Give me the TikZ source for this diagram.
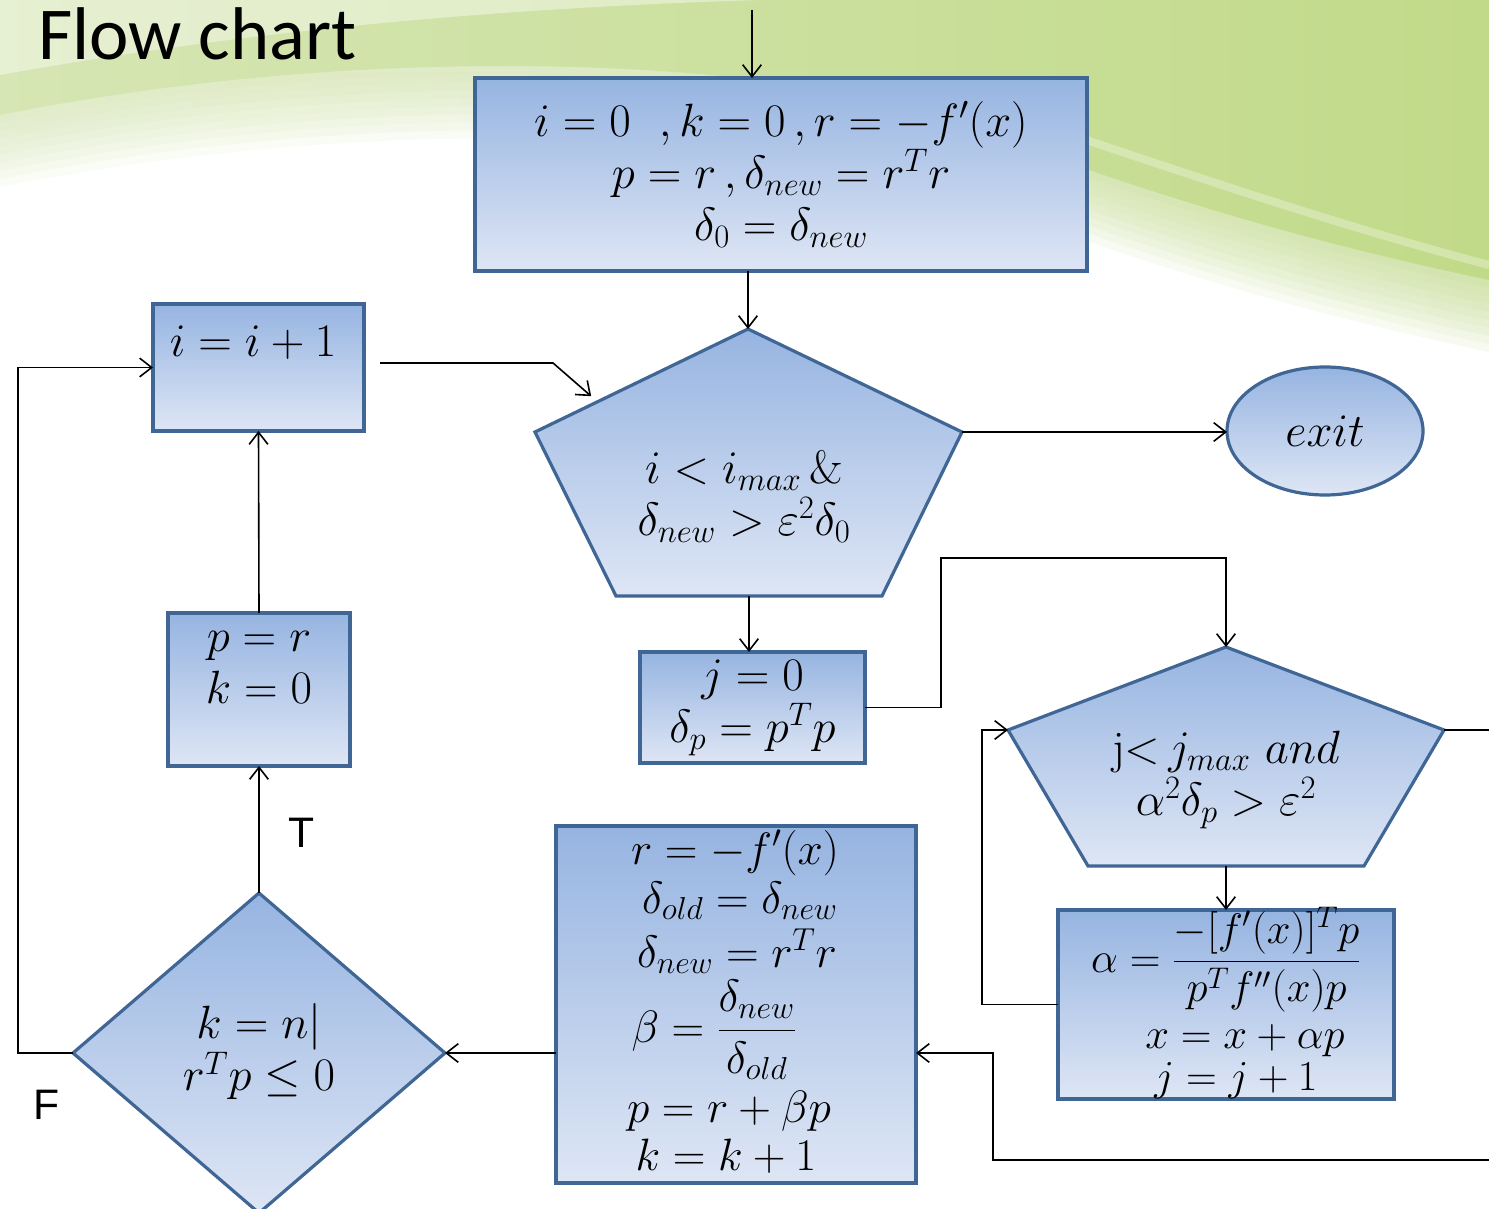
\RequirePackage{fix-cm}
\documentclass[tikz,border=0pt]{standalone}
\usepackage{amsmath}
\usepackage{fontspec}
\newfontfamily\titlefont{Carlito}
\newfontfamily\lblfont{Liberation Sans}
\usetikzlibrary{arrows.meta,shapes.geometric,calc}
\definecolor{boxtop}{RGB}{150,180,225}
\definecolor{boxbot}{RGB}{222,230,245}
\definecolor{boxline}{RGB}{64,102,150}
\definecolor{bgG}{RGB}{193,218,137}
\definecolor{bgP}{RGB}{214,230,180}
\def\pxu{0.75pt}
\begin{document}
\begin{tikzpicture}[x=0.75pt,y=-0.75pt,
  mtext/.style={font=\fontsize{35}{39}\selectfont, align=center},
  btext/.style={font=\fontsize{34}{38}\selectfont, anchor=base, inner sep=0pt},
  box/.style={rectangle, draw=boxline, line width=2.4pt, top color=boxtop, bottom color=boxbot, inner sep=0pt, outer sep=0pt, mtext},
  shp/.style={draw=boxline, line width=2.4pt, top color=boxtop, bottom color=boxbot},
  conn/.style={line width=1.2pt},
  arr/.style={line width=1.2pt, -{Straight Barb[length=9pt,width=14pt,line width=1.2pt]}},
  lbl/.style={font=\lblfont\fontsize{32}{36}\selectfont}
]
\useasboundingbox (0,0) rectangle (1489,1209);
\clip (0,0) rectangle (1489,1209);
\fill[white] (0,0) rectangle (1489,1209);
% background swoosh: soft lower edge by stacked translucent layers
\foreach \s in {72,64,...,8}{
  \shade[left color=bgP, right color=bgG, fill opacity=0.11, yshift=-\s*\pxu]
    (0,0) -- (1489,0) -- (1489,280) .. controls (1300,240) and (1150,195) .. (950,120)
    .. controls (800,65) and (400,35) .. (0,115) -- cycle;
}
\shade[left color=bgP, right color=bgG]
  (0,0) -- (1489,0) -- (1489,280) .. controls (1300,240) and (1150,195) .. (950,120)
  .. controls (800,65) and (400,35) .. (0,115) -- cycle;
% lighter streaks
\draw[white, opacity=0.3, line width=6pt] (950,95) .. controls (1150,160) and (1300,215) .. (1489,265);
\fill[white, opacity=0.4] (0,0) -- (760,0) .. controls (500,8) and (250,30) .. (0,75) -- cycle;

% title
\node[font=\titlefont\fontsize{56}{60}\selectfont, anchor=base west, inner sep=0pt] (title) at (38,60) {Flow chart};

% boxes
\node[box, minimum width=612*\pxu, minimum height=193*\pxu] (init) at (781,174.5)
  {$i=0\ \ ,k=0\,,r=-f'(x)$\\ $p=r\,,\delta_{new}=r^Tr$\\ $\delta_0=\delta_{new}$};
\node[box, minimum width=211*\pxu, minimum height=127*\pxu] (inc) at (258.5,367.5) {};
\node[mtext] (inctext) at (253,343) {$i=i+1$};
\node[box, minimum width=182*\pxu, minimum height=153*\pxu] (pbox) at (259,689.5) {};
\node[mtext] (ptext) at (259,667) {$p=r$\\ $k=0$};
\node[box, minimum width=225*\pxu, minimum height=111*\pxu] (jbox) at (752.5,707.5)
  {$j=0$\\ $\delta_p=p^Tp$};

% alpha box
\node[box, minimum width=336*\pxu, minimum height=189*\pxu] (abox) at (1226,1004.5) {};
\node[btext, font=\fontsize{32}{36}\selectfont] (atext1) at (1226,972) {$\alpha=\dfrac{-[f'(x)]^Tp}{p^Tf''(x)p}$};
\node[btext, font=\fontsize{32}{36}\selectfont] (atext2) at (1245,1048) {$x=x+\alpha p$};
\node[btext, font=\fontsize{32}{36}\selectfont] (atext3) at (1236,1090) {$j=j+1$};

% big box
\node[box, minimum width=360*\pxu, minimum height=357*\pxu] (bbox) at (736,1004.5) {};
\node[btext] (b1) at (735,864) {$r=-f'(x)$};
\node[btext] (b2) at (740,913) {$\delta_{old}=\delta_{new}$};
\node[btext] (b3) at (737,967) {$\delta_{new}=r^Tr$};
\node[btext] (b4) at (714,1042) {$\beta=\dfrac{\delta_{new}}{\delta_{old}}$};
\node[btext] (b5) at (729,1122) {$p=r+\beta p$};
\node[btext] (b6) at (726,1170) {$k=k+1$};

% diamond
\node[shp, diamond, inner sep=0pt, outer sep=0pt, minimum width=372*\pxu, minimum height=320*\pxu, mtext] (dia) at (259,1053) {};
\node[mtext] (diatext) at (259,1052) {$k=n|$\\ $r^Tp\le 0$};

% pentagon 1
\coordinate (p1top) at (748,329);
\coordinate (p1ul) at (535,432);
\coordinate (p1ur) at (962,432);
\coordinate (p1bl) at (616,596);
\coordinate (p1br) at (882,596);
\coordinate (p1bot) at (749,596);
\draw[shp, line join=miter] (p1top) -- (p1ur) -- (p1br) -- (p1bl) -- (p1ul) -- cycle;
\node[mtext] (p1text) at (744,496) {$i<i_{max}\,\&$\\ $\delta_{new}>\varepsilon^2\delta_0$};

% pentagon 2
\coordinate (p2top) at (1226,647);
\coordinate (p2ul) at (1008,730);
\coordinate (p2ur) at (1444,730);
\coordinate (p2bl) at (1088,866);
\coordinate (p2br) at (1364,866);
\coordinate (p2bot) at (1226,866);
\draw[shp, line join=miter] (p2top) -- (p2ur) -- (p2br) -- (p2bl) -- (p2ul) -- cycle;
\node[mtext] (p2text) at (1226,780) {{\rmfamily j<}\,$j_{max}\ and$\\ $\alpha^2\delta_p>\varepsilon^2$};

% exit
\node[shp, ellipse, inner sep=0pt, outer sep=0pt, minimum width=196*\pxu, minimum height=128*\pxu, mtext] (exit) at (1325,431) {$exit$};

% off-picture ends
\coordinate (topin) at (752,10);
\coordinate (offr) at (1489,730);
\coordinate (offr2) at (1489,1160);
\coordinate (p1in) at ($(p1ul)!0.27!(p1top)$);

% connectors
\draw[arr] (topin) -- (topin |- init.north);
\draw[arr] (init.south -| p1top) -- (p1top);
\draw[arr] ([xshift=12pt,yshift=3.4pt]inc.east) -- ++(173,0) -- ([xshift=-1pt,yshift=6pt]p1in);
\draw[arr] (p1ur) -- (p1ur -| exit.west);
\draw[arr] (p1bot) -- (p1bot |- jbox.north);
\draw[arr] (jbox.east) -| (941,558) -| (p2top);
\draw[conn] (p2ur) -- (offr);
\draw[arr] (p2bot) -- (abox.north);
\draw[arr] (abox.west) -- ++(-76,0) |- (p2ul);
\draw[arr] (offr2) -| (993,1053) -- (bbox.east |- dia.east);
\draw[arr] (bbox.west |- dia.east) -- (dia.east);
\draw[arr] (dia.west) -- ++(-55,0) |- (inc.west);
\draw[arr] (dia.north) -- (pbox.south);
\draw[arr] (pbox.north) -- (inc.south);

% labels
\node[lbl] (tlabel) at (302,833) {T};
\node[lbl] (flabel) at (47,1105) {F};
\end{tikzpicture}
\end{document}
